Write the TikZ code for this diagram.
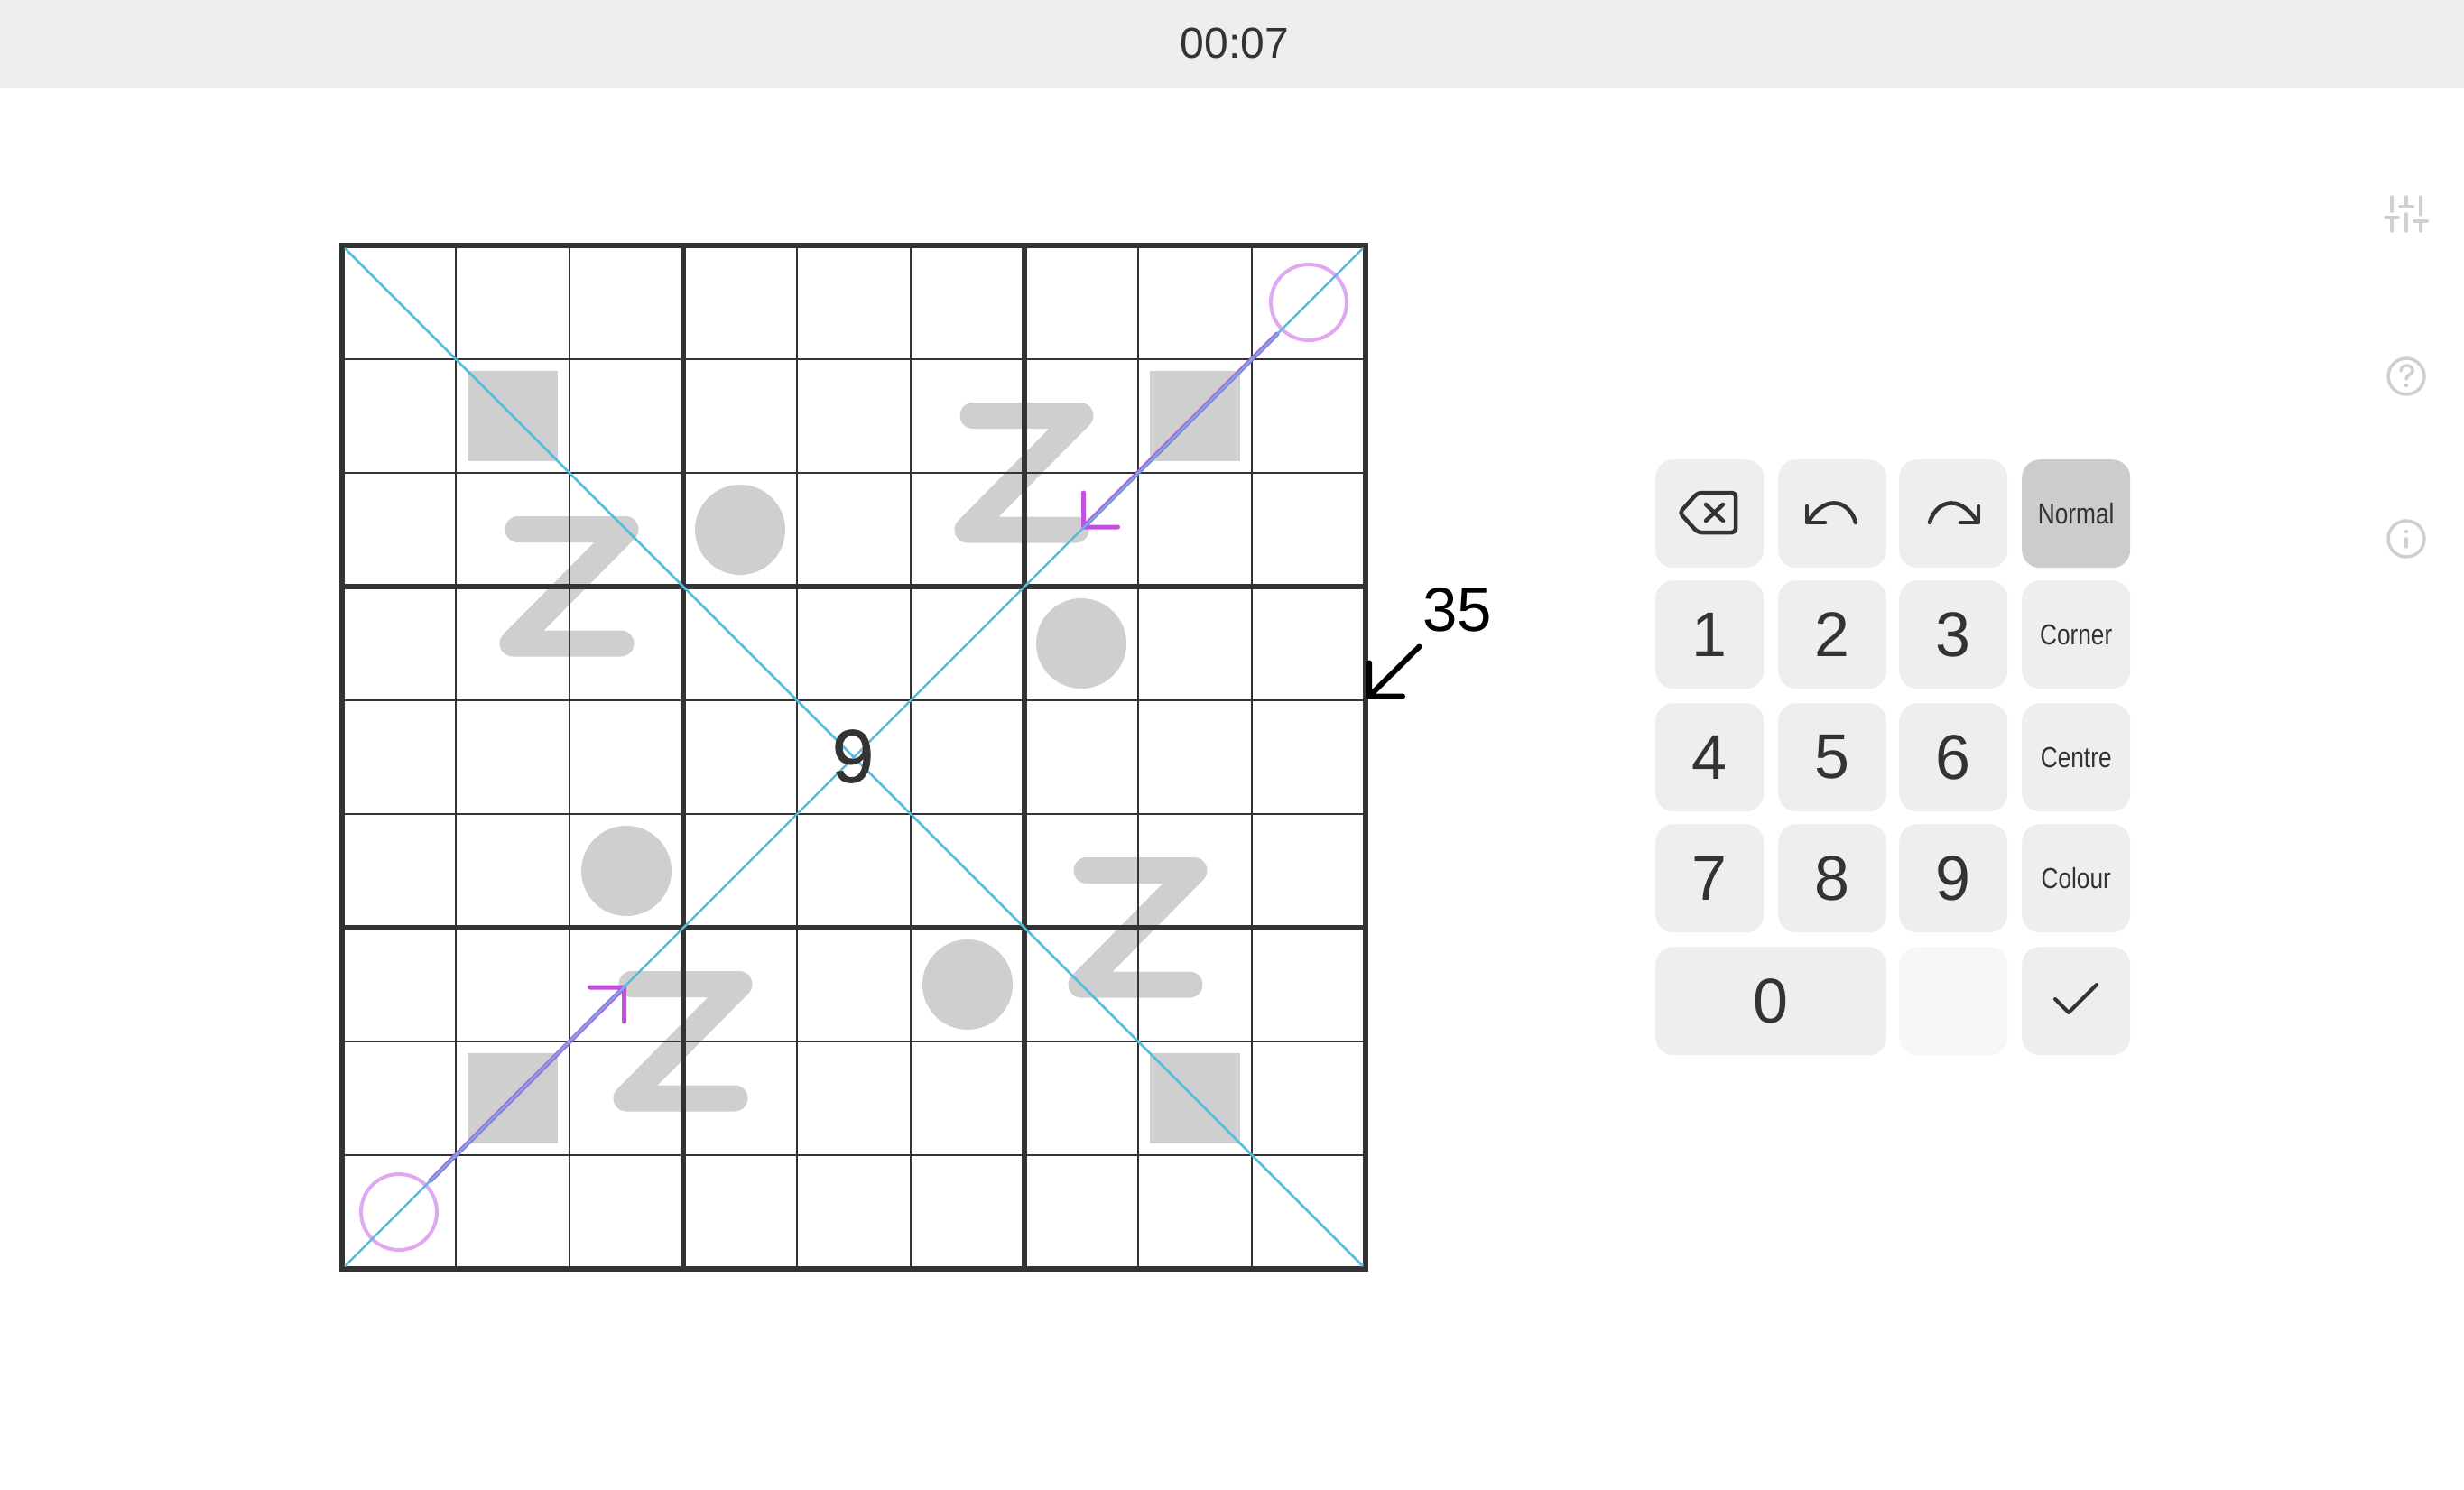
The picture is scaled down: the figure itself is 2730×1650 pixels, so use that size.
\documentclass[tikz,border=0pt]{standalone}
\usepackage{fontspec}
\setmainfont{Liberation Sans}
\newfontfamily\narrowfont[FakeStretch=0.82]{Liberation Sans}
\newfontfamily\givenfont[FakeBold=1]{Liberation Sans}
\definecolor{ink}{HTML}{333333}
\definecolor{barfill}{HTML}{EEEEEE}
\definecolor{keyon}{HTML}{CCCCCC}
\definecolor{keyoff}{HTML}{F7F7F7}
\definecolor{ghost}{HTML}{CFCFCF}
\definecolor{diagblue}{HTML}{5AB9E0}
\definecolor{thermo}{HTML}{C24FE0}
\definecolor{bulb}{HTML}{E0A8F0}
\tikzset{
  x=1pt, y=-1pt,
  key/.style={fill=barfill, rounded corners=20pt, minimum width=120pt, minimum height=120pt, inner sep=0pt, text=ink, font=\fontsize{70}{70}\selectfont},
  modekey/.style={key, font=\narrowfont\fontsize{32}{32}\selectfont},
  zigzag/.style={ghost, line width=29pt, line cap=round, line join=round},
  sidemark/.style={ghost, line width=3.5pt, line cap=round},
  keymark/.style={ink, line width=4.5pt, line cap=round, line join=round},
  barb/.style={line cap=round, line join=round},
}
\begin{document}
\begin{tikzpicture}
  \useasboundingbox (0,0) rectangle (2730,1650);
  \fill[white] (0,0) rectangle (2730,1650);
  % timer
  \fill[barfill] (0,0) rectangle (2730,98);
  \node[text=ink, font=\fontsize{48}{48}\selectfont] (timer) at (1368,48) {00:07};
  % givens under the grid
  \foreach \cx/\cy in {1/1,7/1,1/7,7/7}
    \fill[ghost] (379+126*\cx+13,272+126*\cy+13) rectangle ++(100,100);
  \foreach \cx/\cy in {3/2,6/3,2/5,5/6}
    \fill[ghost] (379+126*\cx+63,272+126*\cy+63) circle (50);
  \foreach \cx/\cy in {2/3,6/2,7/6,3/7}
    \draw[zigzag] (379+126*\cx-57,272+126*\cy-63.5) -- ++(119,0) -- ++(-125,126.5) -- ++(120,0);
  % grid
  \foreach \n in {1,...,8} {
    \draw[ink, line width=2.2pt] (379+126*\n,272) -- (379+126*\n,1406);
    \draw[ink, line width=2.2pt] (379,272+126*\n) -- (1513,272+126*\n);
  }
  \foreach \n in {3,6} {
    \draw[ink, line width=6pt] (379+126*\n,272) -- (379+126*\n,1406);
    \draw[ink, line width=6pt] (379,272+126*\n) -- (1513,272+126*\n);
  }
  \draw[ink, line width=6.5pt] (379,272) rectangle (1513,1406);
  % thermometers
  \draw[bulb, line width=4pt] (1450,335) circle (42);
  \draw[bulb, line width=4pt] (442,1343) circle (42);
  \coordinate (tailA) at (1415,370);
  \coordinate (tipA) at (1200.5,584);
  \coordinate (tailB) at (477,1308);
  \coordinate (tipB) at (691.5,1094);
  \draw[barb, thermo, line width=5pt] (tailA) -- (tipA) +(0,-38) -- (tipA) -- +(38,0);
  \draw[barb, thermo, line width=5pt] (tailB) -- (tipB) +(0,38) -- (tipB) -- +(-38,0);
  % diagonals
  \draw[diagblue, line width=2.5pt] (382,275) -- (1510,1403);
  \draw[diagblue, line width=2.5pt] (1510,275) -- (382,1403);
  \node[text=ink, font=\givenfont\fontsize{83}{83}\selectfont] (given) at (945,838) {9};
  % sum clue
  \node[font=\fontsize{69}{69}\selectfont] (sum) at (1614.5,676) {35};
  \coordinate (sumtail) at (1572.5,716.5);
  \coordinate (sumtip) at (1517,771.5);
  \draw[barb, line width=6pt] (sumtail) -- (sumtip) +(0,-37) -- (sumtip) -- +(37,0);
  % keypad
  \node[key, anchor=north west] (back) at (1834,509) {};
  \node[key, anchor=north west] (undo) at (1970,509) {};
  \node[key, anchor=north west] (redo) at (2104,509) {};
  \node[modekey, fill=keyon, anchor=north west] (normal) at (2240,509) {Normal};
  \node[key, anchor=north west] (one) at (1834,643) {1};
  \node[key, anchor=north west] (two) at (1970,643) {2};
  \node[key, anchor=north west] (three) at (2104,643) {3};
  \node[modekey, anchor=north west] (corner) at (2240,643) {Corner};
  \node[key, anchor=north west] (four) at (1834,779) {4};
  \node[key, anchor=north west] (five) at (1970,779) {5};
  \node[key, anchor=north west] (six) at (2104,779) {6};
  \node[modekey, anchor=north west] (centre) at (2240,779) {Centre};
  \node[key, anchor=north west] (seven) at (1834,913) {7};
  \node[key, anchor=north west] (eight) at (1970,913) {8};
  \node[key, anchor=north west] (nine) at (2104,913) {9};
  \node[modekey, anchor=north west] (colour) at (2240,913) {Colour};
  \node[key, minimum width=256pt, anchor=north west] (zero) at (1834,1049) {0};
  \node[key, fill=keyoff, anchor=north west] (blank) at (2104,1049) {};
  \node[key, anchor=north west] (check) at (2240,1049) {};
  % key icons
  \draw[keymark, rounded corners=4pt] (1861,568) -- (1881,546) -- (1923,546) -- (1923,590) -- (1881,590) -- cycle;
  \draw[keymark] (1890,559) -- (1909,577) (1909,559) -- (1890,577);
  \draw[keymark] (2056,579) .. controls (2050,557) and (2025,545) .. (2004,577);
  \draw[keymark] (2002,561) -- (2002,579) -- (2022,579);
  \draw[keymark] (2138,579) .. controls (2144,557) and (2169,545) .. (2190,577);
  \draw[keymark] (2192,561) -- (2192,579) -- (2172,579);
  \draw[keymark, line width=4pt] (2277,1107) -- (2292,1122) -- (2323,1091);
  % side icons
  \draw[sidemark] (2650,218) -- (2650,234) (2650,241) -- (2650,256) (2643,241) -- (2657,241);
  \draw[sidemark] (2666,218) -- (2666,229) (2666,237) -- (2666,256) (2659,229) -- (2673,229);
  \draw[sidemark] (2682,218) -- (2682,238) (2682,245) -- (2682,256) (2675,245) -- (2689,245);
  \draw[sidemark] (2666,417) circle (20);
  \draw[sidemark] (2660,411) .. controls (2660,403) and (2673,403) .. (2673,411) .. controls (2673,415) and (2666,415) .. (2666,420);
  \fill[ghost] (2666,427) circle (2.2);
  \draw[sidemark] (2666,597) circle (20);
  \fill[ghost] (2666,589) circle (2.2);
  \draw[sidemark] (2666,597) -- (2666,606);
\end{tikzpicture}
\end{document}
